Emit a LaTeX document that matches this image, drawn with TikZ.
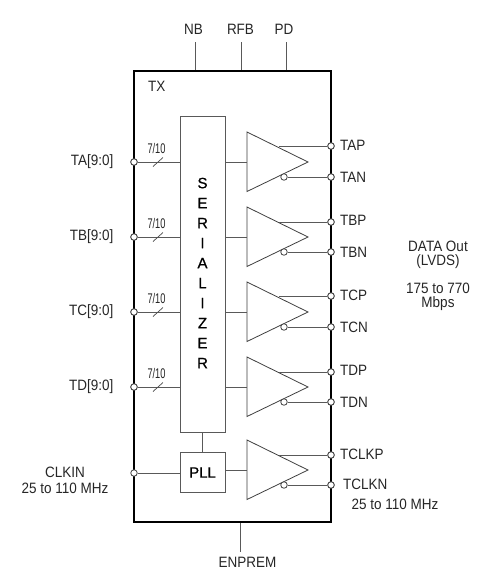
\documentclass[tikz,border=0pt]{standalone}
\usepackage{fontspec}
\setmainfont{Liberation Sans}
\newfontfamily\tallf[FakeStretch=0.9]{Liberation Sans}
\newfontfamily\busf[FakeStretch=0.66]{Liberation Sans}
\newfontfamily\heavyf[FakeBold=0.6]{Liberation Sans}
\tikzset{
  x=1pt,y=-1pt,
  wire/.style={draw=black!65,line width=1pt},
  block/.style={draw=black!65,line width=1pt,fill=white,inner sep=0pt,minimum width=45pt},
  chip/.style={draw=black,line width=2.4pt},
  bub/.style={circle,draw=black!75,line width=.8pt,fill=white,minimum size=6.5pt,inner sep=0pt},
  amp/.style={draw=black!75,line width=.8pt,fill=white},
  lbl/.style={font=\tallf\fontsize{15}{16}\selectfont,text=black!85,inner sep=0pt,align=center},
  heavy/.style={font=\heavyf\fontsize{15}{20}\selectfont,text=black,inner sep=0pt,align=center},
  bus/.style={font=\busf\fontsize{14}{14}\selectfont,text=black!85,inner sep=0pt},
  slash/.style={draw=black!70,line width=.7pt},
}
\newcommand{\ampl}[4]{% name, mid y, P y, N y
  \coordinate (#1top) at (247,#2-30);
  \coordinate (#1bot) at (247,#2+29.5);
  \coordinate (#1tip) at (308,#2);
  \coordinate (#1in) at (247,#2);
  \draw[amp] (#1top) -- (#1tip) -- (#1bot) -- cycle;
  \coordinate (#1ps) at (279,#3);
  \node[bub] (#1pp) at (331,#3) {};
  \node[bub] (#1nb) at (284,#4) {};
  \node[bub] (#1np) at (331,#4) {};
  \draw[wire] (#1ps) -- (#1pp);
  \draw[wire] (#1nb) -- (#1np);
}
\newcommand{\inbus}[3]{% name, y, label
  \node[bub] (#1pin) at (134,#2) {};
  \coordinate (#1ser) at (180,#2);
  \draw[wire] (#1pin) -- (#1ser);
  \draw[slash] (153,#2+4.5) -- (163,#2-4.5);
  \node[bus] (#1bus) at (156.5,#2-13.5) {7/10};
  \node[lbl,anchor=east] (#1lab) at (113.5,#2) {#3};
}
\begin{document}
\begin{tikzpicture}
\useasboundingbox (0,0) rectangle (480,584);
\fill[white] (0,0) rectangle (480,584);
% top pins
\coordinate (nbe) at (195,71); \coordinate (rfbe) at (241,71); \coordinate (pde) at (286,71);
\coordinate (ene) at (240,522);
\node[lbl] (nb) at (193.5,29) {NB};
\node[lbl] (rfb) at (240.5,29) {RFB};
\node[lbl] (pd) at (284,29) {PD};
\coordinate (nbt) at (195,42); \coordinate (rfbt) at (241,42); \coordinate (pdt) at (286,42); \coordinate (enb) at (240,552);
\draw[wire] (nbt) -- (nbe);
\draw[wire] (rfbt) -- (rfbe);
\draw[wire] (pdt) -- (pde);
\node[lbl] (en) at (247.5,562) {ENPREM};
\draw[wire] (ene) -- (enb);
% chip
\node[lbl,anchor=west] (tx) at (148,86) {TX};
\inbus{a}{162}{TA[9:0]}
\inbus{b}{237}{TB[9:0]}
\inbus{c}{312}{TC[9:0]}
\inbus{d}{387}{TD[9:0]}
\ampl{A}{162}{146}{177}
\ampl{B}{237}{222}{252}
\ampl{C}{312}{296}{327}
\ampl{D}{387}{372}{402}
\ampl{E}{470}{455}{485}
\draw[chip] (134,71) rectangle (331,522);
\foreach \n in {a,b,c,d}{\node[bub] at (\n pin) {};}
\foreach \n in {A,B,C,D,E}{\node[bub] at (\n pp) {}; \node[bub] at (\n np) {};}
% blocks
\node[block,minimum height=316pt] (ser) at (202.5,274) {};
\node[heavy] (sertxt) at (202.5,273) {S\\E\\R\\I\\A\\L\\I\\Z\\E\\R};
\node[block,minimum height=40pt,font=\heavyf\fontsize{15}{16}\selectfont] (pll) at (202.5,472.5) {PLL};
\draw[wire] (ser) -- (pll);
\node[bub] (clkp) at (134,473) {};
\draw[wire] (clkp) -- (pll.west |- clkp);
\draw[wire] (pll.east |- Ein) -- (Ein);
\draw[wire] (ser.east |- Ain) -- (Ain);
\draw[wire] (ser.east |- Bin) -- (Bin);
\draw[wire] (ser.east |- Cin) -- (Cin);
\draw[wire] (ser.east |- Din) -- (Din);
% labels
\node[lbl,anchor=west] (tap) at (340,145) {TAP};
\node[lbl,anchor=west] (tan) at (340,177) {TAN};
\node[lbl,anchor=west] (tbp) at (340,220) {TBP};
\node[lbl,anchor=west] (tbn) at (340,252) {TBN};
\node[lbl,anchor=west] (tcp) at (340,295) {TCP};
\node[lbl,anchor=west] (tcn) at (340,327) {TCN};
\node[lbl,anchor=west] (tdp) at (340,370) {TDP};
\node[lbl,anchor=west] (tdn) at (340,402) {TDN};
\node[lbl,anchor=west] (tckp) at (340,454) {TCLKP};
\node[lbl,anchor=west] (tckn) at (343,484) {TCLKN};
\node[lbl] (f2) at (395,504) {25 to 110 MHz};
\node[lbl] (clk) at (65,472) {CLKIN};
\node[lbl] (f1) at (65,488) {25 to 110 MHz};
\node[lbl] (d1) at (438,246) {DATA Out};
\node[lbl] (d2) at (438,262) {(LVDS)};
\node[lbl] (d3) at (438,288) {175 to 770};
\node[lbl] (d4) at (438,304) {Mbps};
\end{tikzpicture}
\end{document}
